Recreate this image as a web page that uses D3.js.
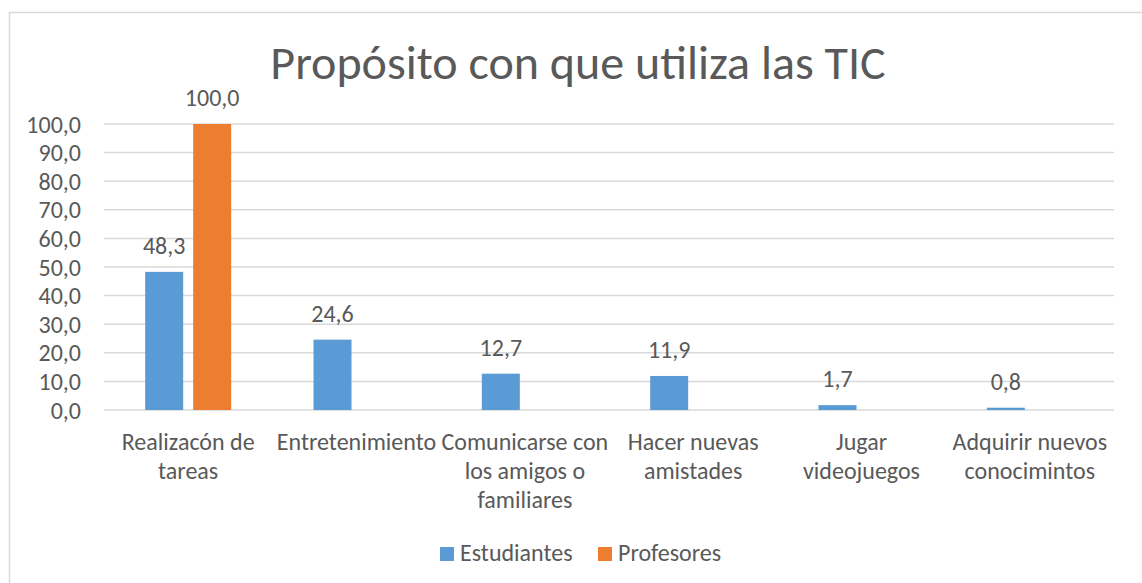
<!DOCTYPE html>
<html>
<head>
<meta charset="utf-8">
<script src="https://cdn.jsdelivr.net/npm/d3@7"></script>
<style>
  body { margin: 0; background: #fff; }
  text { font-family: Carlito, Calibri, "Open Sans", sans-serif; fill: #595959; }
</style>
</head>
<body>
<div id="chart"></div>
<script>
// data
const categories = [
    ["Realizacón de", "tareas"],
    ["Entretenimiento"],
    ["Comunicarse con", "los amigos o", "familiares"],
    ["Hacer nuevas", "amistades"],
    ["Jugar", "videojuegos"],
    ["Adquirir nuevos", "conocimintos"]
];
const seriesNames = ["Estudiantes", "Profesores"];
const estudiantes = [48.3, 24.6, 12.7, 11.9, 1.7, 0.8];
const profesores = [100.0, null, null, null, null, null];
const yTicks = [0, 10, 20, 30, 40, 50, 60, 70, 80, 90, 100];
const colors = ["#5b9bd5", "#ed7d31"];

const width = 1142, height = 583;
const margin = {top: 124, right: 28, bottom: 173, left: 104};
const innerW = width - margin.left - margin.right;
const innerH = height - margin.top - margin.bottom;

const fmt = v => v.toFixed(1).replace(".", ",");

const svg = d3.select("#chart").append("svg")
    .attr("width", width)
    .attr("height", height);

// chart frame (right and bottom edges fall outside the picture)
svg.append("rect")
    .attr("x", 9.5).attr("y", 12.5)
    .attr("width", width).attr("height", height)
    .attr("fill", "none")
    .attr("stroke", "#d9d9d9")
    .attr("stroke-width", 1.5);

svg.append("text")
    .attr("x", 578).attr("y", 79)
    .attr("text-anchor", "middle")
    .style("font-size", "48px")
    .text("Propósito con que utiliza las TIC");

const g = svg.append("g").attr("transform", `translate(${margin.left},${margin.top})`);

const x0 = d3.scaleBand()
    .domain(d3.range(categories.length))
    .range([0, innerW]);

const groupW = 86;
const x1 = d3.scaleBand()
    .domain(seriesNames)
    .range([(x0.bandwidth() - groupW) / 2, (x0.bandwidth() + groupW) / 2])
    .paddingInner(10 / 48);

const y = d3.scaleLinear().domain([0, 100]).range([innerH, 0]);

// gridlines
g.selectAll(".grid")
    .data(yTicks)
    .enter().append("line")
    .attr("x1", 0).attr("x2", innerW)
    .attr("y1", d => y(d)).attr("y2", d => y(d))
    .attr("stroke", "#d9d9d9")
    .attr("stroke-width", 1.5);

// y axis labels
const yAxis = d3.axisLeft(y).tickValues(yTicks).tickFormat(fmt).tickSize(0).tickPadding(23);
const ya = g.append("g").call(yAxis);
ya.select(".domain").remove();
ya.selectAll("text").style("font-size", "24px").style("font-family", null).attr("dy", "0.34em");

const series = [estudiantes, profesores];
series.forEach(function(vals, s) {
    const name = seriesNames[s];
    const data = vals.map((v, i) => ({i: i, v: v})).filter(d => d.v !== null);

    g.selectAll(".bar" + s)
        .data(data)
        .enter().append("rect")
        .attr("x", d => x0(d.i) + x1(name))
        .attr("y", d => y(d.v))
        .attr("width", x1.bandwidth())
        .attr("height", d => innerH - y(d.v))
        .attr("fill", colors[s]);

    g.selectAll(".lab" + s)
        .data(data)
        .enter().append("text")
        .attr("x", d => x0(d.i) + x1(name) + x1.bandwidth() / 2)
        .attr("y", d => y(d.v) - 18)
        .attr("text-anchor", "middle")
        .style("font-size", "24px")
        .text(d => fmt(d.v));
});

// category labels
const cat = g.selectAll(".cat")
    .data(categories)
    .enter().append("text")
    .attr("text-anchor", "middle")
    .attr("transform", (d, i) => `translate(${x0(i) + x0.bandwidth() / 2},${innerH + 40})`)
    .style("font-size", "24px");

cat.selectAll("tspan")
    .data(d => d)
    .enter().append("tspan")
    .attr("x", 0)
    .attr("y", (d, j) => j * 29)
    .text(d => d);

// legend
const legend = svg.append("g").attr("transform", "translate(440,561)");
const legendX = [0, 158];
seriesNames.forEach(function(name, s) {
    const item = legend.append("g").attr("transform", `translate(${legendX[s]},0)`);
    item.append("rect")
        .attr("x", 0).attr("y", -14)
        .attr("width", 14).attr("height", 14)
        .attr("fill", colors[s]);
    item.append("text")
        .attr("x", 20).attr("y", 0)
        .style("font-size", "24px")
        .text(name);
});
</script>
</body>
</html>
